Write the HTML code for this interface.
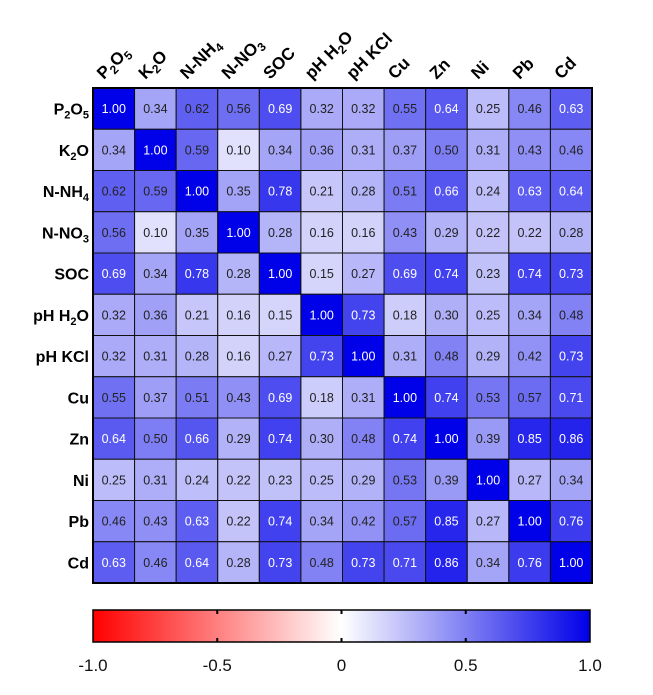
<!DOCTYPE html>
<html><head><meta charset="utf-8"><style>
body{margin:0;background:#fff}
svg{display:block;font-family:"Liberation Sans",Arial,sans-serif}
</style></head><body>
<svg id="c" width="653" height="695"></svg>
<script>
const labels=[["P","2","O","5"],["K","2","O"],["N-NH","4"],["N-NO","3"],["SOC"],["pH H","2","O"],["pH KCl"],["Cu"],["Zn"],["Ni"],["Pb"],["Cd"]];
const labelNames=["p2o5","k2o","n-nh4","n-no3","soc","ph-h2o","ph-kcl","cu","zn","ni","pb","cd"];
const matrix=[
[1,0.34,0.62,0.56,0.69,0.32,0.32,0.55,0.64,0.25,0.46,0.63],
[0.34,1,0.59,0.10,0.34,0.36,0.31,0.37,0.50,0.31,0.43,0.46],
[0.62,0.59,1,0.35,0.78,0.21,0.28,0.51,0.66,0.24,0.63,0.64],
[0.56,0.10,0.35,1,0.28,0.16,0.16,0.43,0.29,0.22,0.22,0.28],
[0.69,0.34,0.78,0.28,1,0.15,0.27,0.69,0.74,0.23,0.74,0.73],
[0.32,0.36,0.21,0.16,0.15,1,0.73,0.18,0.30,0.25,0.34,0.48],
[0.32,0.31,0.28,0.16,0.27,0.73,1,0.31,0.48,0.29,0.42,0.73],
[0.55,0.37,0.51,0.43,0.69,0.18,0.31,1,0.74,0.53,0.57,0.71],
[0.64,0.50,0.66,0.29,0.74,0.30,0.48,0.74,1,0.39,0.85,0.86],
[0.25,0.31,0.24,0.22,0.23,0.25,0.29,0.53,0.39,1,0.27,0.34],
[0.46,0.43,0.63,0.22,0.74,0.34,0.42,0.57,0.85,0.27,1,0.76],
[0.63,0.46,0.64,0.28,0.73,0.48,0.73,0.71,0.86,0.34,0.76,1]];
const cbTicks=[-1,-0.5,0,0.5,1];
const cbTickLabels=["-1.0","-0.5","0","0.5","1.0"];

const NS="http://www.w3.org/2000/svg",svg=document.getElementById('c');
function mk(t,a,p){const e=document.createElementNS(NS,t);for(const k in a)e.setAttribute(k,a[k]);(p||svg).appendChild(e);return e;}
const X0=93,X1=592,Y0=88,Y1=583,n=labels.length,cw=(X1-X0)/n,ch=(Y1-Y0)/n;
const xs=i=>X0+i*cw, ys=i=>Y0+i*ch;
function col(v){
  if(v>=0){const c=Math.round(250*(1-v));const b=Math.round(255-22*v);return `rgb(${c},${c},${b})`;}
  const c=Math.round(255*(1+v));return `rgb(255,${c},${c})`;
}
function addLabel(t,parts,sub){
  parts.forEach((p,k)=>{const s=mk('tspan',{},t);s.textContent=p;
    if(k%2==1){s.setAttribute('font-size',sub);s.setAttribute('dy','4');}
    else if(k>0){s.setAttribute('dy','-4');}});
}
for(let r=0;r<n;r++){for(let c=0;c<n;c++){
  const v=matrix[r][c];
  const g=mk('g',{});
  
  
  mk('rect',{x:xs(c),y:ys(r),width:cw,height:ch,fill:col(v),stroke:'#111','stroke-width':1},g);
  const t=mk('text',{x:xs(c)+cw/2,y:ys(r)+ch/2+4.5,'text-anchor':'middle','font-size':12.5,fill:v>=0.625?'#fff':'#222'},g);
  t.textContent=v.toFixed(2);
}}
const ob=mk('rect',{x:X0,y:Y0,width:X1-X0,height:Y1-Y0,fill:'none',stroke:'#000','stroke-width':2});


for(let i=0;i<n;i++){
  const t=mk('text',{x:89,y:ys(i)+ch/2+6,'text-anchor':'end','font-size':16,'font-weight':'bold'});
  
  
  addLabel(t,labels[i],11);
  const cx=xs(i)+cw/2-10,cy=80;
  const u=mk('text',{x:cx,y:cy,'font-size':17,'font-weight':'bold',transform:`rotate(-45 ${cx} ${cy})`});
  
  
  addLabel(u,labels[i],12);
}
const defs=mk('defs',{});
const lg=mk('linearGradient',{id:'gr',x1:0,x2:1,y1:0,y2:0},defs);
mk('stop',{offset:0,'stop-color':'#ff0000'},lg);mk('stop',{offset:0.5,'stop-color':'#ffffff'},lg);mk('stop',{offset:1,'stop-color':'#0000e8'},lg);
const CB0=93,CB1=590,CBy=610,CBh=32;
const cbx=v=>CB0+(v+1)/2*(CB1-CB0);
const cb=mk('rect',{x:CB0,y:CBy,width:CB1-CB0,height:CBh,fill:'url(#gr)',stroke:'#000','stroke-width':1.5});


cbTicks.forEach((v,i)=>{
  if(i>0&&i<cbTicks.length-1){
    mk('line',{x1:cbx(v),x2:cbx(v),y1:CBy,y2:CBy+4,stroke:'#000','stroke-width':2});
    mk('line',{x1:cbx(v),x2:cbx(v),y1:CBy+CBh-4,y2:CBy+CBh,stroke:'#000','stroke-width':2});
  }
  const t=mk('text',{x:cbx(v),y:671,'text-anchor':'middle','font-size':17,fill:'#111'});
  
  
  t.textContent=cbTickLabels[i];
});
</script>
</body></html>
